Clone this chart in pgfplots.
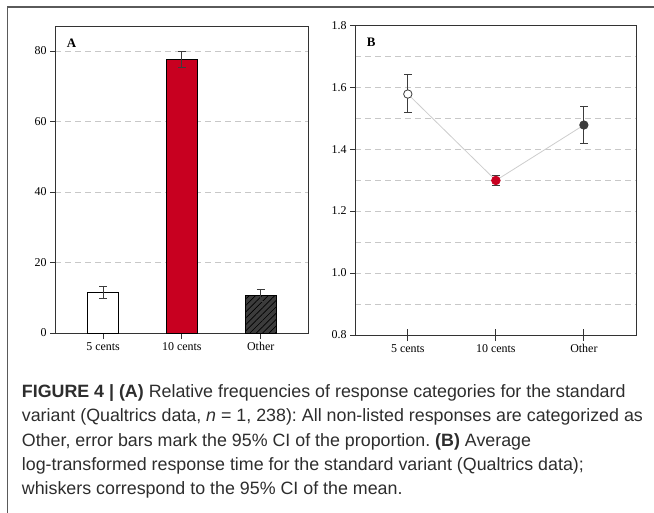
\documentclass[border=0pt]{standalone}
\usepackage{pgfplots}
\pgfplotsset{compat=1.18}
\usepackage{fontspec}
\setmainfont{Liberation Sans}
\newfontfamily\chartfont{Liberation Serif}
\usetikzlibrary{patterns.meta}
\definecolor{cred}{RGB}{200,0,32}
\definecolor{cdark}{RGB}{60,60,60}
\definecolor{cgrid}{RGB}{200,200,200}
\definecolor{cline}{RGB}{205,205,205}
\definecolor{ccap}{RGB}{45,45,45}
\definecolor{cframe}{RGB}{90,90,90}
\pgfplotsset{
  common/.style={
    scale only axis,
    anchor=south west,
    ytick pos=left, xtick pos=bottom,
    ytick align=outside,
    major tick length=5bp,
    xtick=\empty,
    extra x ticks={0,1,2},
    extra x tick labels={5 cents,10 cents,Other},
    extra x tick style={major tick length=12bp, tick align=center},
    ymajorgrids,
    major grid style={cgrid, dash pattern=on 6bp off 4bp, line width=0.8bp},
    minor grid style={cgrid, dash pattern=on 6bp off 4bp, line width=0.8bp},
    axis line style={black!80, line width=0.8bp},
    tick style={black!80, line width=0.8bp},
    tick label style={font=\chartfont\fontsize{12}{14}\selectfont},
    /pgf/number format/assume math mode=true,
  },
  ebar/.style={error bars/.cd, y dir=both, y explicit,
    error bar style={cdark, line width=0.9bp},
    error mark options={rotate=90, mark size=3.8bp, line width=0.9bp, cdark}},
}
\begin{document}
\frenchspacing
\begin{tikzpicture}
\path[use as bounding box] (0,0) rectangle (654bp,-513bp);
\draw[cframe, line width=1.2bp] (7.3bp,-513bp) -- (7.3bp,-7bp) -- (654bp,-7bp);

% Panel A
\begin{axis}[common,
  at={(55bp,-333bp)}, width=253bp, height=307bp,
  xmin=-0.61, xmax=2.6, ymin=0, ymax=87.1,
  ytick={0,20,40,60,80},
]
\addplot[ybar, bar shift=0pt, bar width=31bp, fill=white, draw=black, line width=0.8bp, ebar]
  coordinates {(0,11.5) +- (0,1.8)};
\addplot[ybar, bar shift=0pt, bar width=31bp, fill=cred, draw=black, line width=0.8bp, ebar]
  coordinates {(1,77.5) +- (0,2.3)};
\addplot[ybar, bar shift=0pt, bar width=31bp, fill=cdark, draw=black, line width=0.8bp,
  postaction={pattern={Lines[angle=45, distance=4.5bp, line width=0.7bp]}, pattern color=black}, ebar]
  coordinates {(2,10.7) +- (0,1.7)};
\node[anchor=north west, inner sep=0, font=\chartfont\bfseries\fontsize{13}{15}\selectfont]
  at (rel axis cs:0,1) [xshift=11.7bp, yshift=-12.3bp] {A};
\end{axis}

% Panel B
\begin{axis}[common,
  at={(355bp,-335bp)}, width=281.7bp, height=309.7bp,
  xmin=-0.6, xmax=2.6, ymin=0.8, ymax=1.8,
  ytick={0.8,1.0,1.2,1.4,1.6,1.8},
  minor ytick={0.9,1.1,1.3,1.5,1.7},
  yminorgrids, minor tick length=0pt,
  yticklabel style={/pgf/number format/.cd, fixed, fixed zerofill, precision=1},
]
\addplot[cline, line width=0.8bp, no marks] coordinates {(0,1.578) (1,1.299) (2,1.478)};
\addplot[only marks, mark=*, mark size=4.2bp, mark options={fill=white, draw=cdark, line width=0.8bp}, ebar]
  coordinates {(0,1.578) += (0,0.062) -= (0,0.061)};
\addplot[only marks, mark=*, mark size=4.3bp, mark options={fill=cred, draw=cred, line width=0.8bp}, ebar]
  coordinates {(1,1.299) += (0,0.017) -= (0,0.016)};
\addplot[only marks, mark=*, mark size=4.2bp, mark options={fill=cdark, draw=cdark, line width=0.8bp}, ebar]
  coordinates {(2,1.478) += (0,0.061) -= (0,0.061)};
\node[anchor=north west, inner sep=0, font=\chartfont\bfseries\fontsize{13}{15}\selectfont]
  at (rel axis cs:0,1) [xshift=11.7bp, yshift=-13bp] {B};
\end{axis}

% Caption
\begin{scope}[every node/.style={anchor=base west, inner sep=0, text=ccap, font=\fontsize{17.9}{20}\selectfont}]
\node at (21.7bp,-397.5bp) {\textbf{FIGURE 4 | (A)} Relative frequencies of response categories for the standard};
\node at (21.7bp,-421.8bp) {variant (Qualtrics data, \textit{n} = 1, 238): All non-listed responses are categorized as};
\node at (21.7bp,-446.1bp) {Other, error bars mark the 95\% CI of the proportion. \textbf{(B)} Average};
\node at (21.7bp,-470.4bp) {log-transformed response time for the standard variant (Qualtrics data);};
\node at (21.7bp,-494.7bp) {whiskers correspond to the 95\% CI of the mean.};
\end{scope}
\end{tikzpicture}
\end{document}
